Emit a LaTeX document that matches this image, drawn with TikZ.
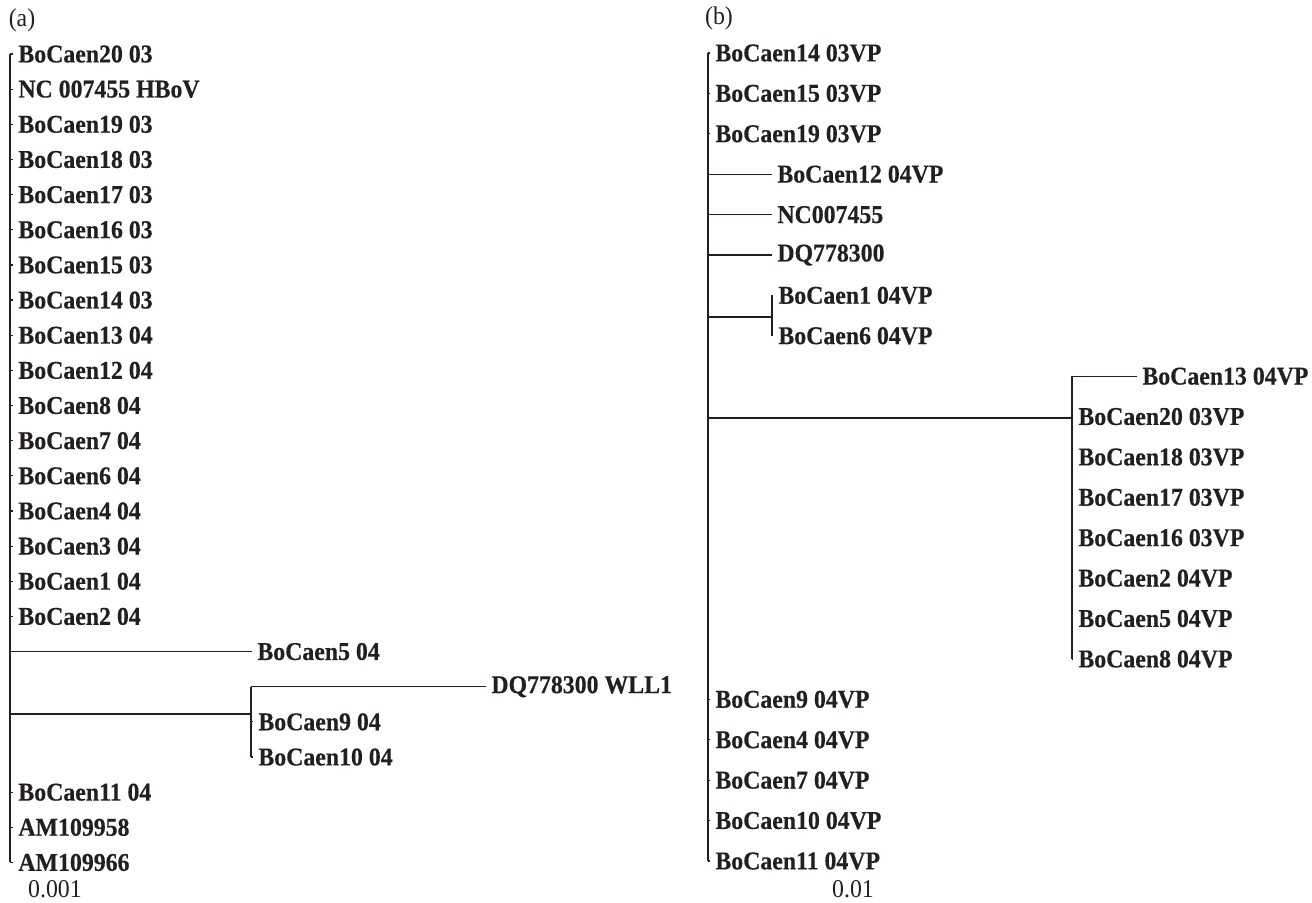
\documentclass[tikz,border=0pt]{standalone}
\usepackage{fontspec}
\setmainfont{Liberation Serif}[FakeStretch=0.93,BoldFeatures={FakeBold=0.4}]
\usetikzlibrary{positioning}
\definecolor{ink}{HTML}{231F20}
\begin{document}
\begin{tikzpicture}[x=0.5pt,y=-0.5pt,color=ink,
    taxon/.style={anchor=west,inner xsep=2.5pt,inner ysep=0pt,font=\fontsize{12.8}{15}\selectfont\bfseries},
    plain/.style={inner sep=0pt,font=\fontsize{12.8}{15}\selectfont},
    twig/.style={line width=0.6pt},
    stem/.style={line width=0.9pt}]
  \useasboundingbox (0,0) rectangle (1312,902);

  % tree (a)
  \node[plain] (la) at (22,20) {(a)};
  \coordinate (ax) at (10,0);
  \foreach \lab [count=\k from 0] in {BoCaen20 03,NC 007455 HBoV,BoCaen19 03,BoCaen18 03,BoCaen17 03,BoCaen16 03,BoCaen15 03,BoCaen14 03,BoCaen13 04,BoCaen12 04,BoCaen8 04,BoCaen7 04,BoCaen6 04,BoCaen4 04,BoCaen3 04,BoCaen1 04,BoCaen2 04}
    \node[taxon] (a\k) at (13,54+35.15*\k) {\lab};
  \foreach \lab [count=\k from 21] in {BoCaen11 04,AM109958,AM109966}
    \node[taxon] (a\k) at (13,54+35.15*\k) {\lab};
  \node[taxon] (a17) at (252,54+35.15*17) {BoCaen5 04};
  \node[taxon] (a18) at (486,54+35.15*18) {DQ778300 WLL1};
  \node[taxon] (a19) at (253,54+35.15*19) {BoCaen9 04};
  \node[taxon] (a20) at (253,54+35.15*20) {BoCaen10 04};
  \coordinate (sa) at (251,714);
  \draw[stem] (ax |- a0.west) -- (ax |- a23.west);
  \foreach \k in {0,...,16,21,22,23}
    \draw[twig] (ax |- a\k.west) -- (a\k.west);
  \draw[twig] (ax |- a17.west) -- (a17.west);
  \draw[twig] (ax |- sa) -- (sa);
  \draw[stem] (sa |- a18.west) -- (sa |- a20.west);
  \foreach \k in {18,19,20}
    \draw[twig] (sa |- a\k.west) -- (a\k.west);
  \node[plain] (sca) at (55,889) {0.001};

  % tree (b)
  \node[plain] (lb) at (719,18) {(b)};
  \coordinate (bx) at (708,0);
  \foreach \lab [count=\k from 0] in {BoCaen14 03VP,BoCaen15 03VP,BoCaen19 03VP}
    \node[taxon] (b\k) at (710,53+40.4*\k) {\lab};
  \foreach \lab [count=\k from 3] in {BoCaen12 04VP,NC007455,DQ778300}
    \node[taxon] (b\k) at (772,53+40.4*\k) {\lab};
  \node[taxon] (b6) at (773,53+40.4*6) {BoCaen1 04VP};
  \node[taxon] (b7) at (773,53+40.4*7) {BoCaen6 04VP};
  \coordinate (sb) at (772,317);
  \node[taxon] (b8) at (1137,53+40.4*8) {BoCaen13 04VP};
  \foreach \lab [count=\k from 9] in {BoCaen20 03VP,BoCaen18 03VP,BoCaen17 03VP,BoCaen16 03VP,BoCaen2 04VP,BoCaen5 04VP,BoCaen8 04VP}
    \node[taxon] (b\k) at (1073,53+40.4*\k) {\lab};
  \coordinate (cb) at (1072,418);
  \foreach \lab [count=\k from 16] in {BoCaen9 04VP,BoCaen4 04VP,BoCaen7 04VP,BoCaen10 04VP,BoCaen11 04VP}
    \node[taxon] (b\k) at (710,53+40.4*\k) {\lab};
  \draw[stem] (bx |- b0.west) -- (bx |- b20.west);
  \foreach \k in {0,1,2,3,4,5,16,17,18,19,20}
    \draw[twig] (bx |- b\k.west) -- (b\k.west);
  \draw[twig] (bx |- sb) -- (sb);
  \draw[stem] (sb |- b6.west) -- (sb |- b7.west);
  \foreach \k in {6,7}
    \draw[twig] (sb |- b\k.west) -- (b\k.west);
  \draw[twig] (bx |- cb) -- (cb);
  \draw[stem] (cb |- b8.west) -- (cb |- b15.west);
  \foreach \k in {8,...,15}
    \draw[twig] (cb |- b\k.west) -- (b\k.west);
  \node[plain] (scb) at (853,889) {0.01};
\end{tikzpicture}
\end{document}
